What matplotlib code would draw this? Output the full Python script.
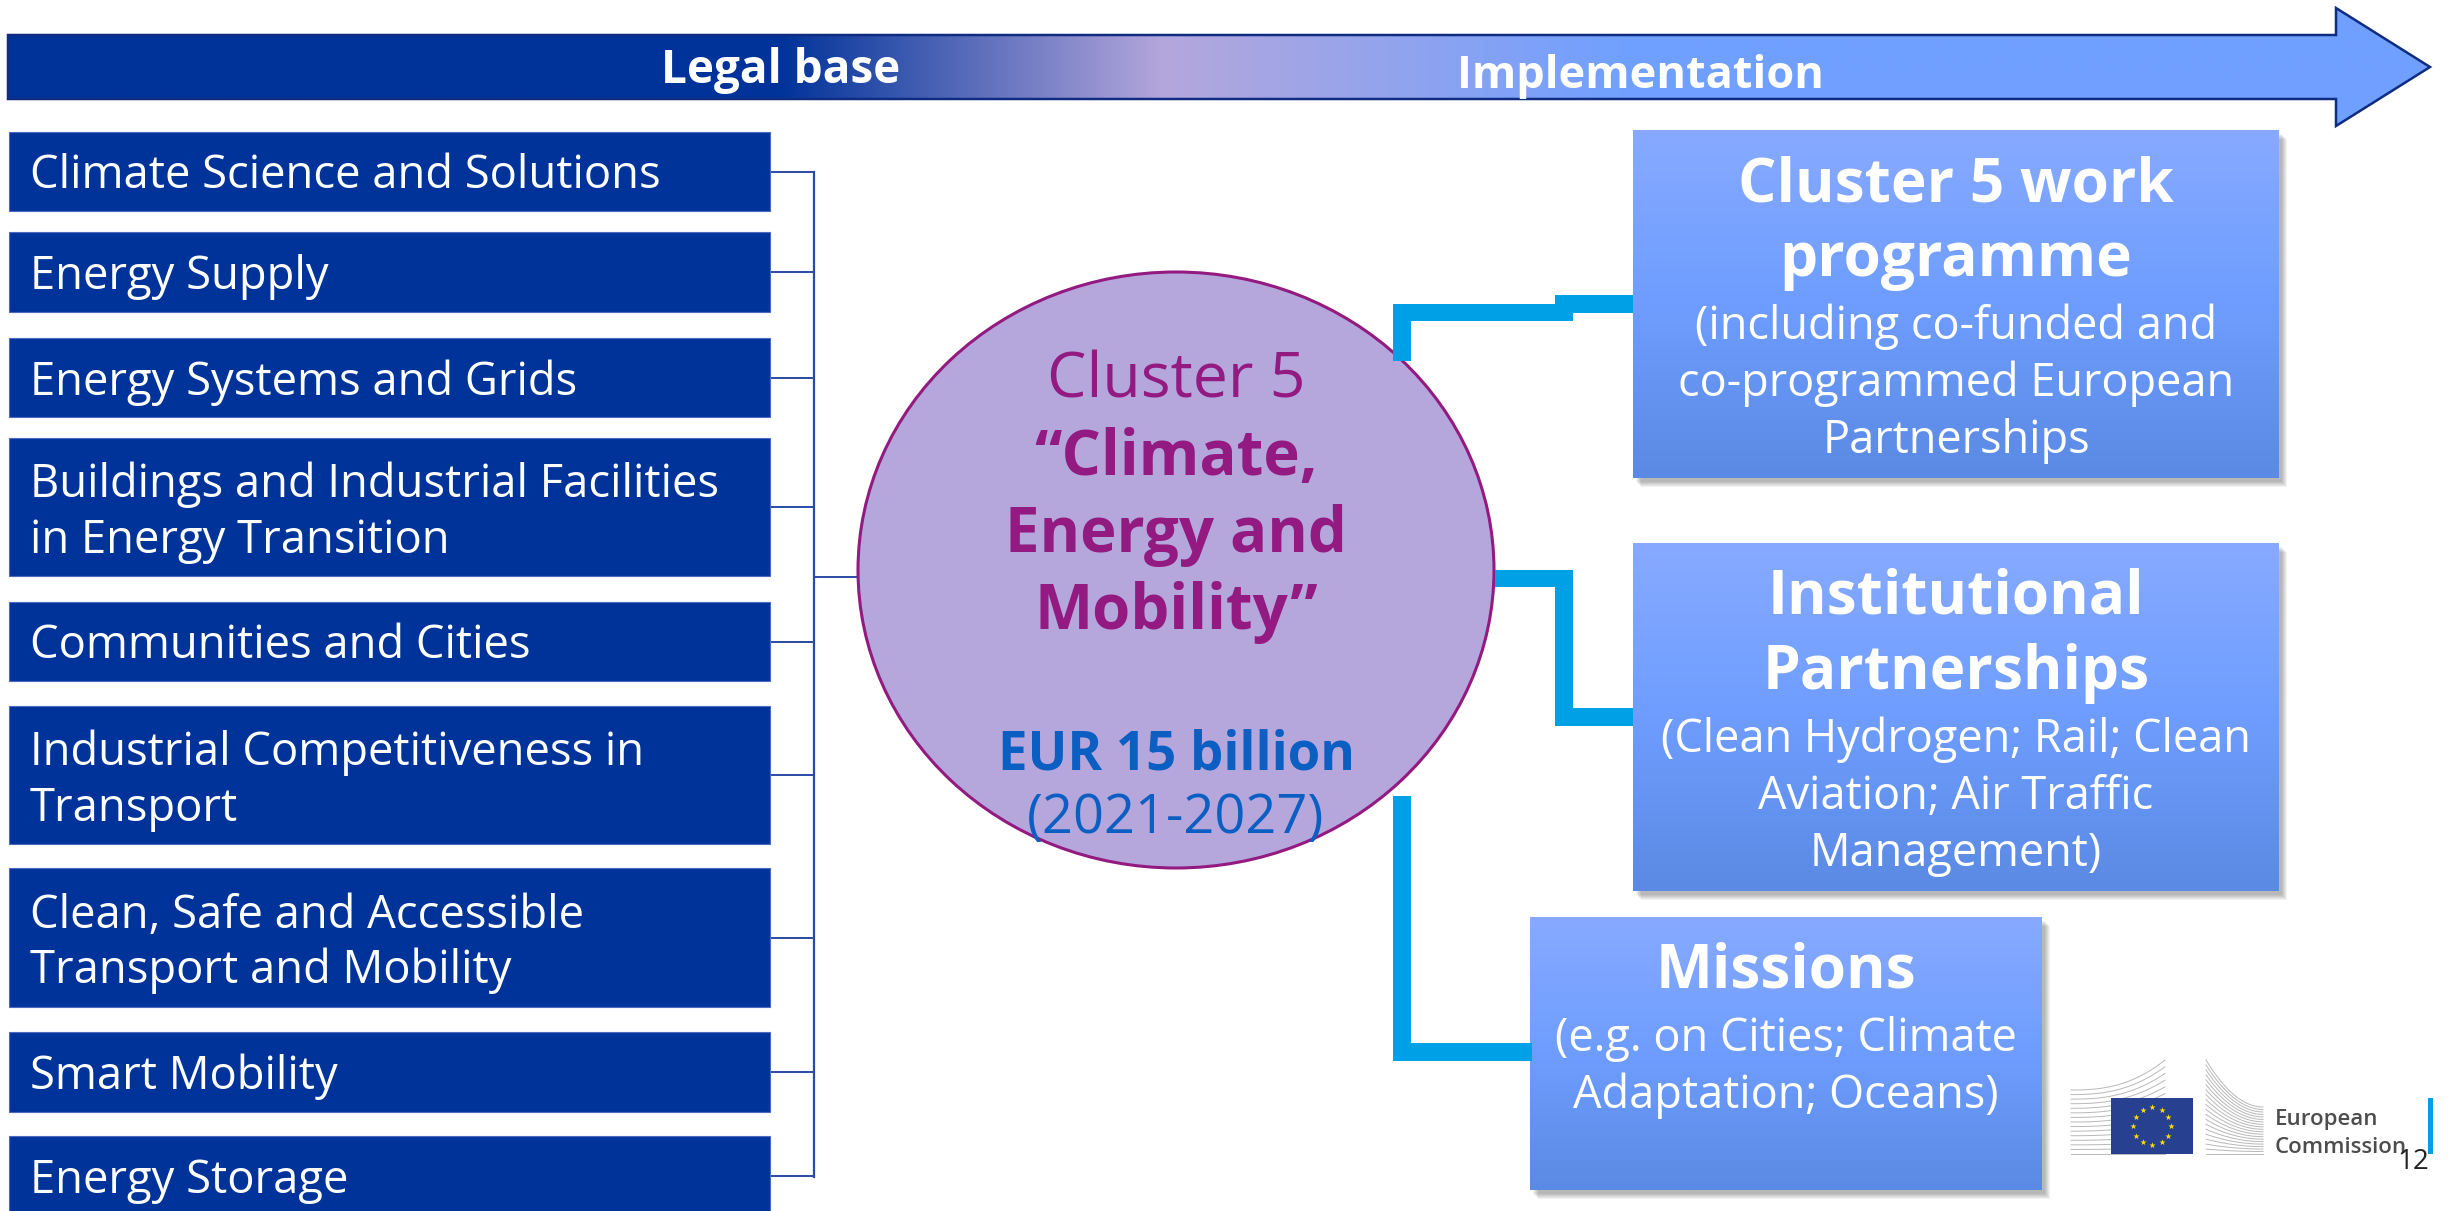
import numpy as np
import matplotlib
matplotlib.use("Agg")
import matplotlib.pyplot as plt
from matplotlib.patches import Rectangle, Polygon, Ellipse

plt.rcParams['font.family'] = ['Open Sans', 'DejaVu Sans']

# ---- content ----
arrow_labels = ["Legal base", "Implementation"]

topics = [
    ["Climate Science and Solutions"],
    ["Energy Supply"],
    ["Energy Systems and Grids"],
    ["Buildings and Industrial Facilities", "in Energy Transition"],
    ["Communities and Cities"],
    ["Industrial Competitiveness in", "Transport"],
    ["Clean, Safe and Accessible", "Transport and Mobility"],
    ["Smart Mobility"],
    ["Energy Storage"],
]

cluster_name = "Cluster 5"
cluster_title = ["“Climate,", "Energy and", "Mobility”"]
cluster_budget = "EUR 15 billion"
cluster_period = "(2021-2027)"

out_titles = [["Cluster 5 work", "programme"],
              ["Institutional", "Partnerships"],
              ["Missions"]]
out_notes = [["(including co-funded and", "co-programmed European", "Partnerships"],
             ["(Clean Hydrogen; Rail; Clean", "Aviation; Air Traffic", "Management)"],
             ["(e.g. on Cities; Climate", "Adaptation; Oceans)"]]

logo_text = ["European", "Commission"]
page_no = "12"

# ---- layout, in pixels of the 2448x1211 canvas ----
W, H = 2448, 1211
topic_x = (9, 770)
topic_y = [(132, 211), (232, 312), (338, 417), (438, 576), (602, 681),
           (706, 844), (868, 1007), (1032, 1112), (1136, 1216)]
bus_x = 814
circ_c, circ_rx, circ_ry = (1176, 570), 318, 298
out_box = [(1633, 130, 2279, 478), (1633, 543, 2279, 891), (1530, 917, 2042, 1190)]

navy = '#003399'
cyan = '#00A0E6'
purple = '#931A80'
eur_blue = '#0B5EC2'


def hex_rgb(h):
    h = h.lstrip('#')
    return [int(h[i:i + 2], 16) / 255 for i in (0, 2, 4)]


def gradient(n, stops_pos, stops_col):
    pos = np.linspace(0, 1, n)
    cols = [hex_rgb(c) for c in stops_col]
    return np.stack([np.interp(pos, stops_pos, [c[i] for c in cols]) for i in range(3)], axis=-1)


fig = plt.figure(figsize=(W / 100, H / 100), dpi=100)
ax = fig.add_axes([0, 0, 1, 1])
ax.set_xlim(0, W)
ax.set_ylim(H, 0)
ax.axis('off')

# ---- top arrow ----
arrow_pts = [(8, 35), (2336, 35), (2336, 8), (2430, 67), (2336, 126), (2336, 99), (8, 99)]
arrow = Polygon(arrow_pts, closed=True, facecolor='none', edgecolor='#102C80', lw=1.8, zorder=3)
ax.add_patch(arrow)
g = gradient(1200, [0, 780 / W, 1164 / W, 1625 / W, 1],
             ['#003399', '#003399', '#B4A7DC', '#70A0FF', '#70A0FF'])[None, :, :]
im = ax.imshow(g, extent=[0, W, 126, 8], aspect='auto', zorder=2)
im.set_clip_path(arrow)
ax.text(781, 83, arrow_labels[0], color='white', fontsize=33, fontweight='bold',
        ha='center', va='baseline', zorder=4)
ax.text(1640, 88, arrow_labels[1], color='white', fontsize=32.5, fontweight='bold',
        ha='center', va='baseline', zorder=4)

# ---- left topic boxes + bus line ----
for lines, (y0, y1) in zip(topics, topic_y):
    ax.add_patch(Rectangle((topic_x[0], y0), topic_x[1] - topic_x[0], y1 - y0,
                           facecolor=navy, edgecolor='#4C6BC0', lw=0.8, zorder=2))
    yc = (y0 + y1) / 2
    if len(lines) == 1:
        ax.text(30, yc + 17, lines[0], color='white', fontsize=32.7, va='baseline', zorder=3)
    else:
        ax.text(30, yc - 10, lines[0], color='white', fontsize=32.7, va='baseline', zorder=3)
        ax.text(30, yc + 46, lines[1], color='white', fontsize=32.7, va='baseline', zorder=3)
    ax.plot([topic_x[1], bus_x], [yc, yc], color='#2A4BA5', lw=1.4, zorder=1)
centers = [(a + b) / 2 for a, b in topic_y]
ax.plot([bus_x, bus_x], [centers[0], centers[-1] + 0.5], color='#2A4BA5', lw=1.6, zorder=1)
ax.plot([bus_x, circ_c[0] - circ_rx], [577, 577], color='#2A4BA5', lw=1.4, zorder=1)

# ---- central circle ----
ax.add_patch(Ellipse(circ_c, 2 * circ_rx, 2 * circ_ry, facecolor='#B5A7DC',
                     edgecolor=purple, lw=2.2, zorder=2))
cx = circ_c[0]
ax.text(cx, 398, cluster_name, color=purple, fontsize=45, ha='center', va='baseline', zorder=3)
for line, yb in zip(cluster_title, [475, 552, 629]):
    ax.text(cx, yb, line, color=purple, fontsize=44.5, fontweight='bold',
            ha='center', va='baseline', zorder=3)
ax.text(cx, 770, cluster_budget, color=eur_blue, fontsize=38, fontweight='bold',
        ha='center', va='baseline', zorder=3)
ax.text(cx, 833, cluster_period, color=eur_blue, fontsize=39, ha='center', va='baseline', zorder=3)

# ---- cyan elbow connectors ----
seg = [(1393, 304, 1411, 361), (1393, 304, 1573, 321), (1555, 295, 1633, 313),
       (1495, 570, 1573, 587), (1555, 570, 1573, 726), (1555, 708, 1633, 726),
       (1393, 796, 1411, 1061), (1393, 1043, 1532, 1061)]
for x0, y0, x1, y1 in seg:
    ax.add_patch(Rectangle((x0, y0), x1 - x0, y1 - y0, facecolor=cyan, edgecolor='none', zorder=4))

# ---- right outcome boxes ----
box_grad = gradient(200, [0, 0.5, 1], ['#87AAFF', '#6E9DFF', '#5A8AE3'])[:, None, :]
for (x0, y0, x1, y1), titles, notes in zip(out_box, out_titles, out_notes):
    for k in range(6):
        ax.add_patch(Rectangle((x0 + 3 + k, y0 + 4 + k), x1 - x0, y1 - y0,
                               facecolor='black', edgecolor='none', alpha=0.05, zorder=1))
    rect = Rectangle((x0, y0), x1 - x0, y1 - y0, facecolor='none', edgecolor='none', zorder=2)
    ax.add_patch(rect)
    bim = ax.imshow(box_grad, extent=[x0, x1, y1, y0], aspect='auto', zorder=2)
    bim.set_clip_path(rect)
    xc = (x0 + x1) / 2
    yb = y0 + 71
    for t in titles:
        ax.text(xc, yb, t, color='white', fontsize=43.5, fontweight='bold',
                ha='center', va='baseline', zorder=3)
        yb += 75
    yb += 63 - 75
    for n in notes:
        ax.text(xc, yb, n, color='white', fontsize=32.5, ha='center', va='baseline', zorder=3)
        yb += 57

# ---- European Commission logo ----
grey = '#B8B8B8'
for i in range(15):
    t = i / 14
    yl = 1090 + t * 64
    xs = np.linspace(2071, 2165, 40)
    ax.plot(xs, yl - (1 - t) * 30 * ((xs - 2071) / 94) ** 2.5, color=grey, lw=0.7, zorder=2)
for i in range(20):
    t = i / 19
    yl = 1060 + t * 94
    yr = 1107 + t * 47
    s = np.linspace(0, 1, 40)
    ax.plot(2206 + 57 * s, yl + (yr - yl) * (1 - (1 - s) ** 2), color=grey, lw=0.7, zorder=2)
ax.add_patch(Rectangle((2111, 1098), 82, 56, facecolor='#27408F', edgecolor='none', zorder=3))
ang = np.linspace(0, 2 * np.pi, 13)[:-1]
ax.scatter(2152 + 19 * np.cos(ang), 1126 + 19 * np.sin(ang), marker='*', s=22,
           color='#FFDD00', linewidths=0, zorder=4)
ax.text(2275, 1125, logo_text[0], color='#4D4D4D', fontsize=16, fontweight='semibold',
        va='baseline', zorder=3)
ax.text(2275, 1153, logo_text[1], color='#4D4D4D', fontsize=16, fontweight='semibold',
        va='baseline', zorder=3)
ax.add_patch(Rectangle((2428, 1098), 5, 56, facecolor=cyan, edgecolor='none', zorder=3))
ax.text(2413, 1169, page_no, color='#222222', fontsize=20, ha='center', va='baseline', zorder=5)

ax.set_xlim(0, W)
ax.set_ylim(H, 0)
fig.savefig('out.png', dpi=100)
